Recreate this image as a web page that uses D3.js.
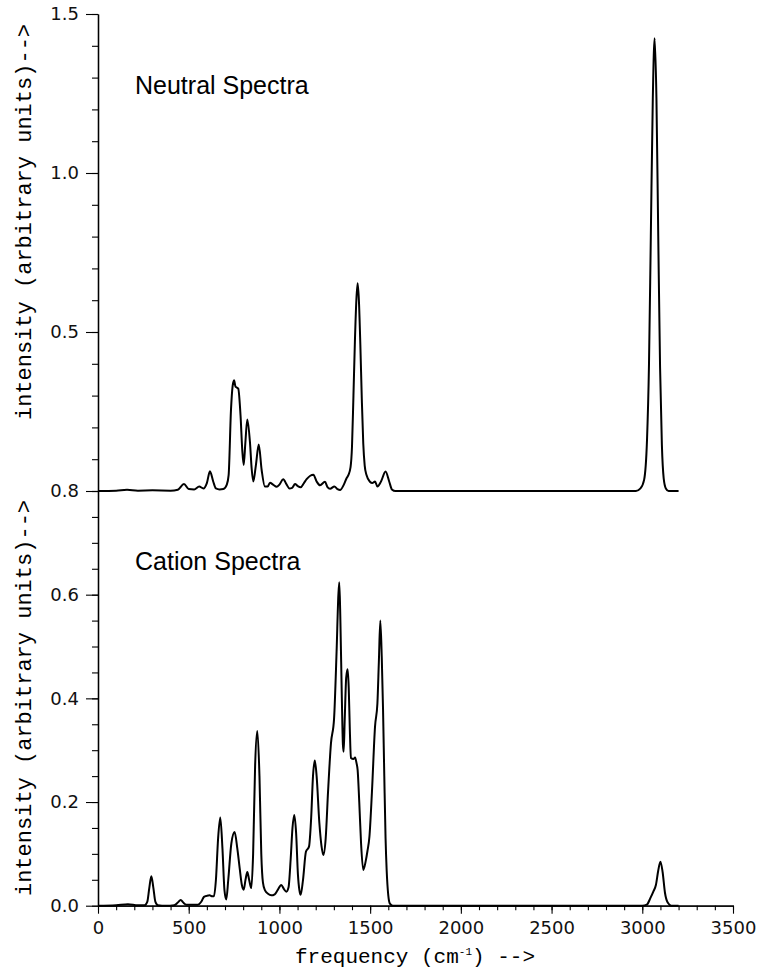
<!DOCTYPE html>
<html>
<head>
<meta charset="utf-8">
<script src="https://cdn.jsdelivr.net/npm/d3@7"></script>
<style>
  body { margin: 0; background: #fff; }
  svg { display: block; }
</style>
</head>
<body>
<div id="chart"></div>
<script>
// frequency (cm-1), intensity pairs
const neutralFreq = [0, 100, 160, 220, 300, 400, 440, 474, 500, 530, 558, 581, 600, 617, 635, 650, 670, 691, 710, 720,
  733, 742, 750, 758, 766, 773, 786, 795, 803, 812, 823, 838, 847, 856, 870, 886, 902, 920, 935, 948,
  965, 985, 1000, 1021, 1040, 1055, 1070, 1086, 1100, 1117, 1135, 1150, 1170, 1187, 1205, 1224, 1251, 1265, 1279, 1303,
  1320, 1334, 1355, 1370, 1380, 1392, 1400, 1408, 1416, 1424, 1431, 1438, 1446, 1454, 1462, 1470, 1480, 1499, 1512, 1527,
  1540, 1560, 1585, 1605, 1620, 1640, 2965, 2990, 3010, 3026, 3037, 3047, 3058, 3068, 3078, 3088, 3098, 3108, 3118, 3130,
  3145, 3200];
const neutralInt = [0, 0.001, 0.004, 0.001, 0.002, 0.001, 0.004, 0.022, 0.006, 0.005, 0.014, 0.008, 0.025, 0.062, 0.03, 0.008, 0.005, 0.006, 0.02, 0.05,
  0.255, 0.33, 0.348, 0.328, 0.325, 0.322, 0.234, 0.13, 0.082, 0.15, 0.225, 0.15, 0.07, 0.03, 0.08, 0.146, 0.066, 0.014, 0.014, 0.026,
  0.02, 0.013, 0.02, 0.037, 0.02, 0.008, 0.01, 0.022, 0.016, 0.012, 0.025, 0.037, 0.048, 0.051, 0.03, 0.018, 0.029, 0.012, 0.007, 0.014,
  0.006, 0.003, 0.02, 0.04, 0.05, 0.075, 0.14, 0.3, 0.47, 0.6, 0.653, 0.6, 0.46, 0.29, 0.15, 0.08, 0.05, 0.029, 0.025, 0.03,
  0.014, 0.03, 0.061, 0.03, 0.005, 0, 0, 0.008, 0.035, 0.16, 0.4, 0.8, 1.235, 1.424, 1.235, 0.8, 0.39, 0.145, 0.04, 0.008,
  0, 0];

const cationFreq = [0, 100, 165, 220, 257, 272, 283, 294, 305, 316, 330, 375, 420, 440, 456, 470, 487, 551, 570, 584,
  600, 615, 630, 639, 650, 662, 674, 686, 697, 707, 718, 735, 753, 768, 781, 793, 803, 813, 823, 833,
  845, 855, 866, 878, 890, 900, 909, 920, 937, 955, 974, 990, 1010, 1025, 1038, 1050, 1062, 1072, 1082, 1092,
  1102, 1110, 1117, 1130, 1146, 1163, 1175, 1185, 1195, 1205, 1220, 1232, 1242, 1255, 1268, 1284, 1301, 1315, 1325, 1330,
  1336, 1344, 1350, 1354, 1360, 1368, 1376, 1382, 1388, 1394, 1408, 1417, 1425, 1431, 1440, 1450, 1462, 1475, 1485, 1496,
  1510, 1527, 1540, 1548, 1556, 1564, 1571, 1578, 1585, 1591, 1600, 1609, 1625, 3000, 3025, 3045, 3062, 3075, 3088, 3100,
  3112, 3125, 3140, 3160, 3200];
const cationInt = [0, 0.001, 0.003, 0.001, 0.001, 0.008, 0.035, 0.057, 0.035, 0.008, 0.001, 0, 0.001, 0.006, 0.011, 0.006, 0.002, 0.002, 0.008, 0.017,
  0.019, 0.02, 0.018, 0.018, 0.05, 0.13, 0.17, 0.11, 0.03, 0.012, 0.05, 0.12, 0.142, 0.11, 0.072, 0.04, 0.031, 0.05, 0.065, 0.05,
  0.034, 0.1, 0.27, 0.337, 0.25, 0.1, 0.045, 0.03, 0.023, 0.02, 0.022, 0.03, 0.04, 0.032, 0.027, 0.035, 0.09, 0.15, 0.175, 0.14,
  0.06, 0.03, 0.021, 0.05, 0.104, 0.114, 0.17, 0.25, 0.28, 0.25, 0.16, 0.115, 0.098, 0.13, 0.22, 0.313, 0.36, 0.49, 0.6, 0.624,
  0.55, 0.4, 0.31, 0.297, 0.36, 0.44, 0.456, 0.42, 0.34, 0.285, 0.283, 0.286, 0.275, 0.262, 0.2, 0.12, 0.069, 0.085, 0.105, 0.133,
  0.22, 0.346, 0.39, 0.47, 0.55, 0.48, 0.38, 0.25, 0.13, 0.069, 0.02, 0.004, 0, 0, 0.002, 0.015, 0.028, 0.04, 0.068, 0.085,
  0.065, 0.025, 0.006, 0, 0];

const xTicks = [0, 500, 1000, 1500, 2000, 2500, 3000, 3500];
const topTicks = [0.5, 1.0, 1.5];
const bottomTicks = [0.0, 0.2, 0.4, 0.6, 0.8];
const panelLabels = ["Neutral Spectra", "Cation Spectra"];

const width = 760, height = 977;
const svg = d3.select("#chart").append("svg")
    .attr("width", width)
    .attr("height", height)
    .style("background", "#fff");

let x = d3.scaleLinear().domain([0, 3500]).range([98, 733]);
let yTop = d3.scaleLinear().domain([0, 1.5]).range([491, 14]);
let yBot = d3.scaleLinear().domain([0, 0.8]).range([905.7, 491]);

const tickFont = "'DejaVu Sans', sans-serif";
const titleFont = "'Liberation Mono', 'Courier New', monospace";

function styleAxis(g) {
    g.select(".domain").attr("stroke", "#000").attr("stroke-width", 1.3);
    g.selectAll(".tick line").attr("stroke", "#000").attr("stroke-width", 1.1);
    g.selectAll(".tick text")
        .attr("fill", "#111")
        .style("font-family", tickFont)
        .style("font-size", "18px");
}

// left axes, minor ticks first then the labelled ones
svg.append("g")
    .attr("transform", "translate(98,0)")
    .call(d3.axisLeft(yTop).tickValues(d3.range(0, 1.51, 0.1)).tickSize(6).tickSizeOuter(0).tickFormat(""))
    .call(styleAxis);
svg.append("g")
    .attr("transform", "translate(98,0)")
    .call(d3.axisLeft(yTop).tickValues(topTicks).tickSize(12).tickPadding(7).tickSizeOuter(0).tickFormat(d3.format(".1f")))
    .call(styleAxis);

svg.append("g")
    .attr("transform", "translate(98,0)")
    .call(d3.axisLeft(yBot).tickValues(d3.range(0, 0.801, 0.05)).tickSize(6).tickSizeOuter(0).tickFormat(""))
    .call(styleAxis);
svg.append("g")
    .attr("transform", "translate(98,0)")
    .call(d3.axisLeft(yBot).tickValues(bottomTicks).tickSize(12).tickPadding(7).tickSizeOuter(0).tickFormat(d3.format(".1f")))
    .call(styleAxis);

// bottom axis
svg.append("g")
    .attr("transform", "translate(0,905.7)")
    .call(d3.axisBottom(x).tickValues(d3.range(0, 3501, 100)).tickSize(4.5).tickSizeOuter(0).tickFormat(""))
    .call(styleAxis);
svg.append("g")
    .attr("transform", "translate(0,905.7)")
    .call(d3.axisBottom(x).tickValues(xTicks).tickSize(8).tickPadding(8).tickSizeOuter(0).tickFormat(d3.format("d")))
    .call(styleAxis);

// spectra
let lineTop = d3.line()
    .x(i => x(neutralFreq[i]))
    .y(i => yTop(neutralInt[i]))
    .curve(d3.curveMonotoneX);
let lineBot = d3.line()
    .x(i => x(cationFreq[i]))
    .y(i => yBot(cationInt[i]))
    .curve(d3.curveMonotoneX);

svg.append("path")
    .datum(d3.range(neutralFreq.length))
    .attr("fill", "none")
    .attr("stroke", "#000")
    .attr("stroke-width", 2)
    .attr("stroke-linejoin", "round")
    .attr("d", lineTop);

svg.append("path")
    .datum(d3.range(cationFreq.length))
    .attr("fill", "none")
    .attr("stroke", "#000")
    .attr("stroke-width", 2)
    .attr("stroke-linejoin", "round")
    .attr("d", lineBot);

// panel labels
svg.append("text")
    .attr("x", 135).attr("y", 94)
    .style("font-family", "'Liberation Sans', Arial, sans-serif")
    .style("font-size", "25px")
    .text(panelLabels[0]);
svg.append("text")
    .attr("x", 135).attr("y", 570)
    .style("font-family", "'Liberation Sans', Arial, sans-serif")
    .style("font-size", "25px")
    .text(panelLabels[1]);

// axis titles
[222, 698].forEach(cy => {
    svg.append("text")
        .attr("transform", `translate(31,${cy}) rotate(-90)`)
        .attr("text-anchor", "middle")
        .style("font-family", titleFont)
        .style("font-size", "22px")
        .text("intensity (arbitrary units)-->");
});

let xt = svg.append("text")
    .attr("x", 415).attr("y", 963)
    .attr("text-anchor", "middle")
    .style("font-family", titleFont)
    .style("font-size", "21px");
xt.append("tspan").text("frequency (cm");
xt.append("tspan").attr("dy", -8).style("font-size", "11px").text("-1");
xt.append("tspan").attr("dy", 8).text(") -->");
</script>
</body>
</html>
